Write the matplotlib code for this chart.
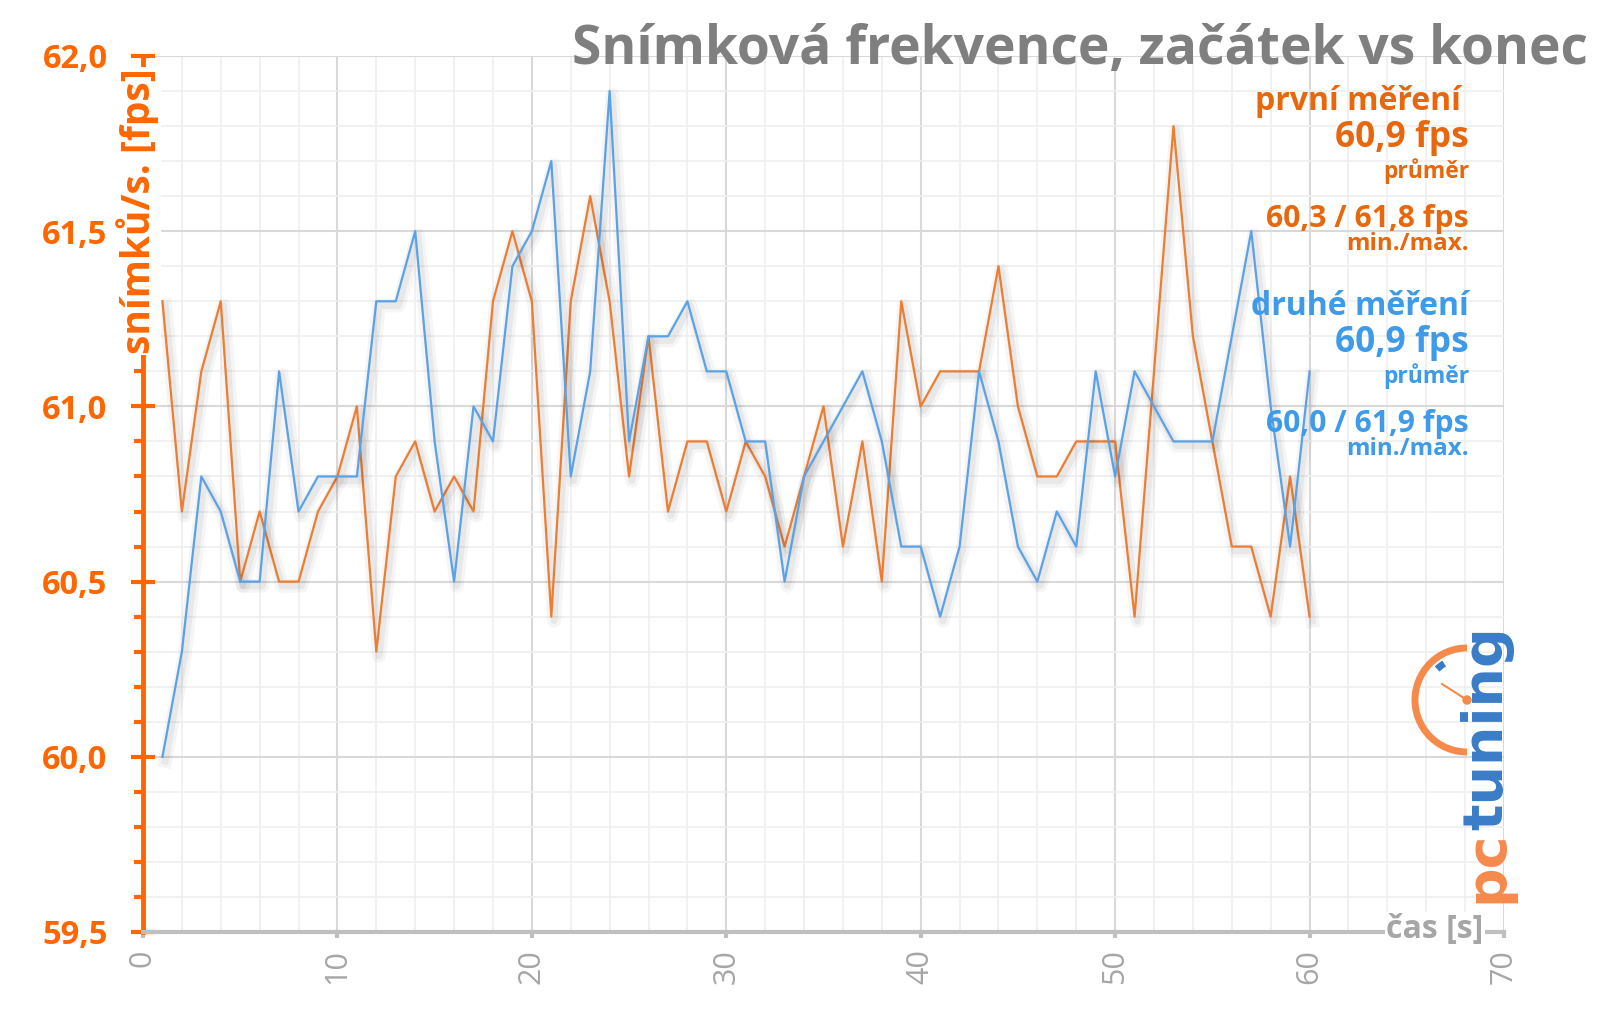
import numpy as np
import matplotlib
matplotlib.use('Agg')
import matplotlib.pyplot as plt
import matplotlib.patheffects as pe
from matplotlib.ticker import MultipleLocator
from matplotlib.patches import Arc, Circle

plt.rcParams['font.family'] = ['Open Sans', 'DejaVu Sans']

# Data (fps per second)
seconds = list(range(1, 61))
first_run = [61.3, 60.7, 61.1, 61.3, 60.5, 60.7, 60.5, 60.5, 60.7, 60.8,
             61.0, 60.3, 60.8, 60.9, 60.7, 60.8, 60.7, 61.3, 61.5, 61.3,
             60.4, 61.3, 61.6, 61.3, 60.8, 61.2, 60.7, 60.9, 60.9, 60.7,
             60.9, 60.8, 60.6, 60.8, 61.0, 60.6, 60.9, 60.5, 61.3, 61.0,
             61.1, 61.1, 61.1, 61.4, 61.0, 60.8, 60.8, 60.9, 60.9, 60.9,
             60.4, 61.1, 61.8, 61.2, 60.9, 60.6, 60.6, 60.4, 60.8, 60.4]
second_run = [60.0, 60.3, 60.8, 60.7, 60.5, 60.5, 61.1, 60.7, 60.8, 60.8,
              60.8, 61.3, 61.3, 61.5, 60.9, 60.5, 61.0, 60.9, 61.4, 61.5,
              61.7, 60.8, 61.1, 61.9, 60.9, 61.2, 61.2, 61.3, 61.1, 61.1,
              60.9, 60.9, 60.5, 60.8, 60.9, 61.0, 61.1, 60.9, 60.6, 60.6,
              60.4, 60.6, 61.1, 60.9, 60.6, 60.5, 60.7, 60.6, 61.1, 60.8,
              61.1, 61.0, 60.9, 60.9, 60.9, 61.2, 61.5, 61.0, 60.6, 61.1]

x_ticks = [0, 10, 20, 30, 40, 50, 60, 70]
x_labels = ['0', '10', '20', '30', '40', '50', '60', '70']
y_ticks = [59.5, 60.0, 60.5, 61.0, 61.5, 62.0]
y_labels = ['59,5', '60,0', '60,5', '61,0', '61,5', '62,0']

ORANGE_AXIS = '#ff6600'
ORANGE_TEXT = '#e8670c'
ORANGE_LINE = '#ed7d31'
BLUE_LINE = '#5aa2e8'
BLUE_TEXT = '#3d9be9'
TITLE_GRAY = '#7f7f7f'
AXIS_GRAY = '#a6a6a6'
LOGO_ORANGE = '#f58a4b'
LOGO_BLUE = '#3a7cc7'

W, H = 1600, 1015
fig = plt.figure(figsize=(W / 100, H / 100), dpi=100)
ax = fig.add_axes([143 / W, 1 - 932 / H, (1504 - 143) / W, (932 - 56) / H])


def ftext(x, y, s, **kw):
    # position in pixels from the top-left corner
    return fig.text(x / W, 1 - y / H, s, **kw)


shadow = [pe.SimpleLineShadow(offset=(2, -3), shadow_color='black', alpha=0.04, linewidth=10),
          pe.SimpleLineShadow(offset=(2, -3), shadow_color='black', alpha=0.05, linewidth=5),
          pe.Normal()]
ax.plot(seconds, first_run, color=ORANGE_LINE, lw=1.6, path_effects=shadow, zorder=3)
ax.plot(seconds, second_run, color=BLUE_LINE, lw=1.6, path_effects=shadow, zorder=3)

ax.set_xlim(0, 70)
ax.set_ylim(59.5, 62.0)
ax.set_xticks(x_ticks)
ax.set_xticklabels(x_labels, rotation=90, color=AXIS_GRAY, fontsize=22)
ax.set_yticks(y_ticks)
ax.set_yticklabels(y_labels, color=ORANGE_AXIS, fontsize=23.5, fontweight='bold')
ax.xaxis.set_minor_locator(MultipleLocator(2))
ax.yaxis.set_minor_locator(MultipleLocator(0.1))
ax.grid(which='major', color='#d9d9d9', lw=1.5)
ax.grid(which='minor', color='#efefef', lw=1.2)
ax.set_axisbelow(True)

ax.tick_params(axis='y', which='major', direction='inout', length=17, width=3,
               color=ORANGE_AXIS, pad=17)
ax.tick_params(axis='y', which='minor', direction='out', length=6.5, width=3,
               color=ORANGE_AXIS)
ax.tick_params(axis='x', which='major', direction='out', length=4.5, width=3,
               color='#bfbfbf', pad=8)
ax.tick_params(axis='x', which='minor', length=0)

ax.spines['left'].set_color(ORANGE_AXIS)
ax.spines['left'].set_linewidth(3.5)
ax.spines['bottom'].set_color('#bfbfbf')
ax.spines['bottom'].set_linewidth(3)
ax.spines['top'].set_visible(False)
ax.spines['right'].set_visible(False)

# Axis titles sitting on the axis lines
ftext(138, 211, 'snímků/s. [fps]', rotation=90, ha='center', va='center',
      fontsize=28, fontweight='bold', color=ORANGE_AXIS,
      bbox=dict(facecolor='white', edgecolor='none', pad=1))
ftext(1435, 930, 'čas [s]', ha='center', va='center', fontsize=23,
      fontweight='bold', color=AXIS_GRAY,
      bbox=dict(facecolor='white', edgecolor='none', pad=1))

ftext(1588, 64, 'Snímková frekvence, začátek vs konec', ha='right',
      va='baseline', fontsize=38.4, fontweight='bold', color=TITLE_GRAY)


# Summary on the right
def fmt(v):
    return f'{v:.1f}'.replace('.', ',')


blocks = [
    (first_run, 'první měření ', ORANGE_TEXT, 110),
    (second_run, 'druhé měření', BLUE_TEXT, 315),
]
for values, name, color, top in blocks:
    lines = [
        (0, name, 23),
        (37, fmt(np.mean(values)) + ' fps', 25.5),
        (68, 'průměr', 16.5),
        (117, fmt(min(values)) + ' / ' + fmt(max(values)) + ' fps', 21.7),
        (140, 'min./max.', 17.4),
    ]
    for dy, s, size in lines:
        ftext(1469, top + dy, s, ha='right', va='baseline', fontsize=size,
              fontweight='bold', color=color)

# pctuning logo
lax = fig.add_axes([1380 / W, 1 - 910 / H, 140 / W, 310 / H])
lax.set_xlim(0, 140)
lax.set_ylim(0, 310)
lax.axis('off')
lax.add_patch(Arc((87, 210), 104, 104, theta1=90, theta2=270, color=LOGO_ORANGE, lw=5))
lax.add_patch(Arc((87, 210), 86, 86, theta1=122, theta2=134, color=LOGO_BLUE, lw=5))
lax.plot([87, 62], [210, 226], color=LOGO_ORANGE, lw=1.5)
lax.add_patch(Circle((87, 210), 4, color=LOGO_ORANGE))
pc = lax.text(107, 7, 'pc', rotation=90, ha='center', va='bottom', fontsize=40,
              fontweight='bold', color=LOGO_ORANGE, family='DejaVu Sans')
lax.annotate('tuning', xy=(0.5, 1.0), xycoords=pc, rotation=90, ha='center',
             va='bottom', fontsize=40, fontweight='bold', color=LOGO_BLUE,
             family='DejaVu Sans')

fig.savefig('out.png', dpi=100)
